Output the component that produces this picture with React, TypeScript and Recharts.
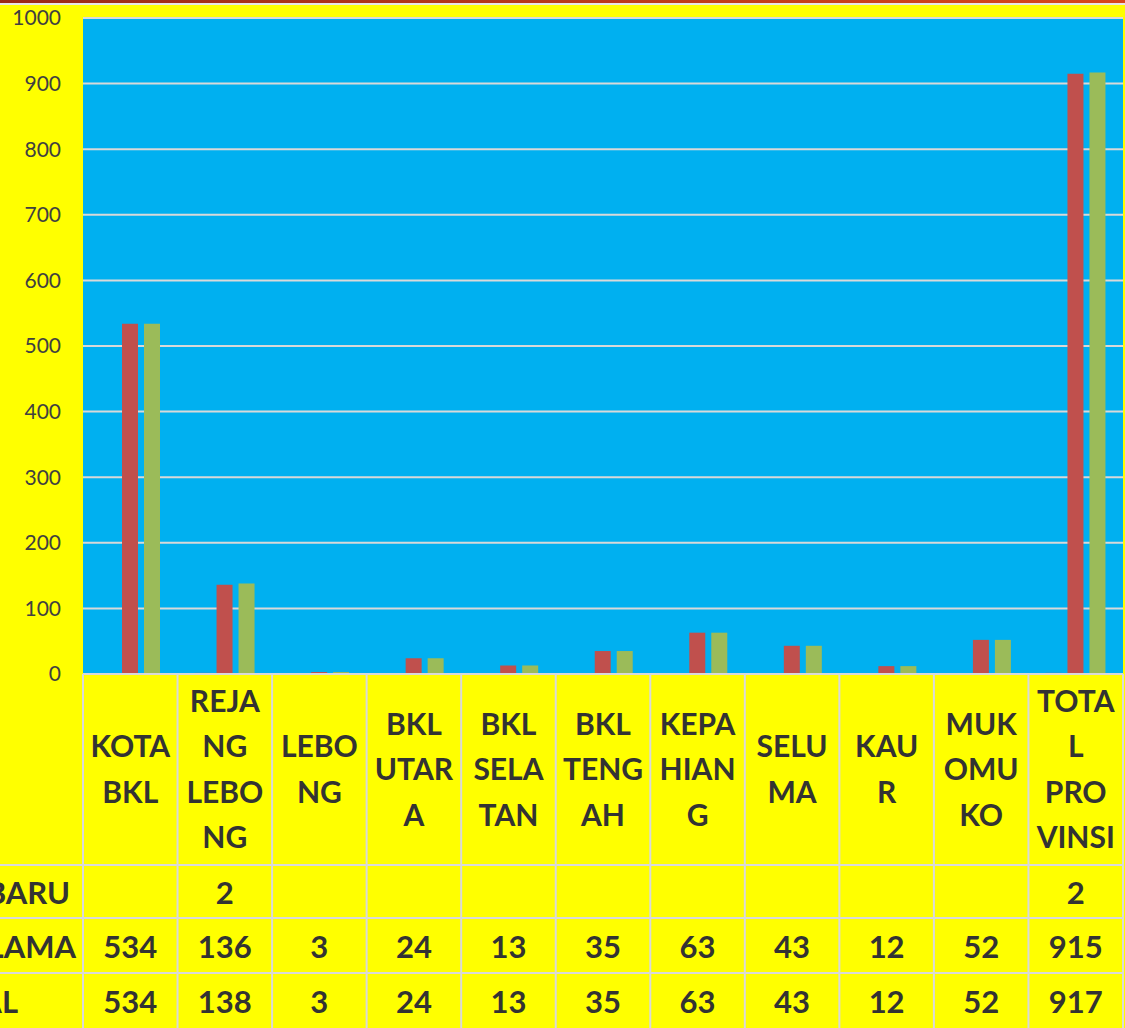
import React from 'react';
import { BarChart, Bar, XAxis, YAxis, CartesianGrid } from 'recharts';

const categories = ['KOTA BKL', 'REJANG LEBONG', 'LEBONG', 'BKL UTARA', 'BKL SELATAN', 'BKL TENGAH', 'KEPAHIANG', 'SELUMA', 'KAUR', 'MUKOMUKO', 'TOTAL PROVINSI'];
// how each category name wraps inside its table cell
const headerLines = [
  ['KOTA', 'BKL'],
  ['REJA', 'NG', 'LEBO', 'NG'],
  ['LEBO', 'NG'],
  ['BKL', 'UTAR', 'A'],
  ['BKL', 'SELA', 'TAN'],
  ['BKL', 'TENG', 'AH'],
  ['KEPA', 'HIAN', 'G'],
  ['SELU', 'MA'],
  ['KAU', 'R'],
  ['MUK', 'OMU', 'KO'],
  ['TOTA', 'L', 'PRO', 'VINSI'],
];
const baru = [null, 2, null, null, null, null, null, null, null, null, 2];
const lama = [534, 136, 3, 24, 13, 35, 63, 43, 12, 52, 915];
const total = [534, 138, 3, 24, 13, 35, 63, 43, 12, 52, 917];
const seriesNames = ['BARU', 'LAMA', 'TOTAL'];
const yTicks = [0, 100, 200, 300, 400, 500, 600, 700, 800, 900, 1000];

const data = categories.map((name, i) => ({ name, baru: baru[i], lama: lama[i], total: total[i] }));

const TEXT = '#333333';
const GRID = '#D9D9D9';
const FONT = 'Lato, "Open Sans", sans-serif';

// table row layout below the axis (offsets from the axis line)
const HEADER_H = 191;
const ROW_H = [53, 55, 55];

function TableTick(props: any) {
  const { x, y, payload, index } = props;
  const half = payload.offset ?? 47;
  const left = x - half;
  const right = x + half;
  const lines = headerLines[index];
  const lh = 45.5;
  const headerMid = y + 94;
  const firstY = headerMid - ((lines.length - 1) * lh) / 2;
  const rowVals = [baru[index], lama[index], total[index]];
  let rowTop = y + HEADER_H;
  const rowTops = ROW_H.map((h) => {
    const t = rowTop;
    rowTop += h;
    return t;
  });

  return (
    <g>
      <line x1={left} y1={y} x2={right} y2={y} stroke={GRID} strokeWidth={2} />
      <line x1={left} y1={y} x2={left} y2={y + 360} stroke={GRID} strokeWidth={2} />
      {index === categories.length - 1 && (
        <line x1={right} y1={y} x2={right} y2={y + 360} stroke={GRID} strokeWidth={2} />
      )}
      {lines.map((t, i) => (
        <text key={i} x={x} y={firstY + i * lh} textAnchor="middle" dominantBaseline="central"
          fill={TEXT} fontSize={30} fontWeight={700} fontFamily={FONT}>
          {t}
        </text>
      ))}
      {rowTops.map((t, r) => (
        <g key={r}>
          <line x1={index === 0 ? 0 : left} y1={t} x2={right} y2={t} stroke={GRID} strokeWidth={2} />
          <text x={x} y={t + ROW_H[r] / 2} textAnchor="middle" dominantBaseline="central"
            fill={TEXT} fontSize={31} fontWeight={700} fontFamily={FONT}>
            {rowVals[r] ?? ''}
          </text>
          {index === 0 && (
            <text x={[70, 76, 18][r]} y={t + ROW_H[r] / 2} textAnchor="end" dominantBaseline="central"
              fill={TEXT} fontSize={31} fontWeight={700} fontFamily={FONT}>
              {seriesNames[r]}
            </text>
          )}
        </g>
      ))}
    </g>
  );
}

export default function App() {
  return (
    <div style={{ position: 'absolute', left: 0, top: 0, width: 1125, height: 1028, background: '#FFFF00', overflow: 'hidden' }}>
      <BarChart width={1125} height={1028} data={data} barSize={16} barGap={6}
        margin={{ top: 18, right: 2, left: 0, bottom: 0 }}>
        <CartesianGrid vertical={false} fill="#00B0F0" stroke={GRID} strokeWidth={2} />
        <XAxis dataKey="name" height={354} axisLine={false} tickLine={false} tickSize={0} tickMargin={0}
          interval={0} tick={<TableTick />} />
        <YAxis width={83} domain={[0, 1000]} ticks={yTicks} axisLine={false} tickLine={false}
          tickSize={0} tickMargin={22} interval={0}
          tick={{ fill: '#404040', fontSize: 21, fontFamily: FONT }} />
        <Bar dataKey="baru" name="BARU" fill="#4F81BD" isAnimationActive={false} />
        <Bar dataKey="lama" name="LAMA" fill="#C0504D" isAnimationActive={false} />
        <Bar dataKey="total" name="TOTAL" fill="#9BBB59" isAnimationActive={false} />
      </BarChart>
      <div style={{ position: 'absolute', left: 0, top: 0, width: 1125, height: 3, background: 'linear-gradient(to right, #9B2A18, #D9461C)' }} />
      <div style={{ position: 'absolute', left: 0, top: 3, width: 1125, height: 2, background: '#E6E6E6' }} />
    </div>
  );
}
